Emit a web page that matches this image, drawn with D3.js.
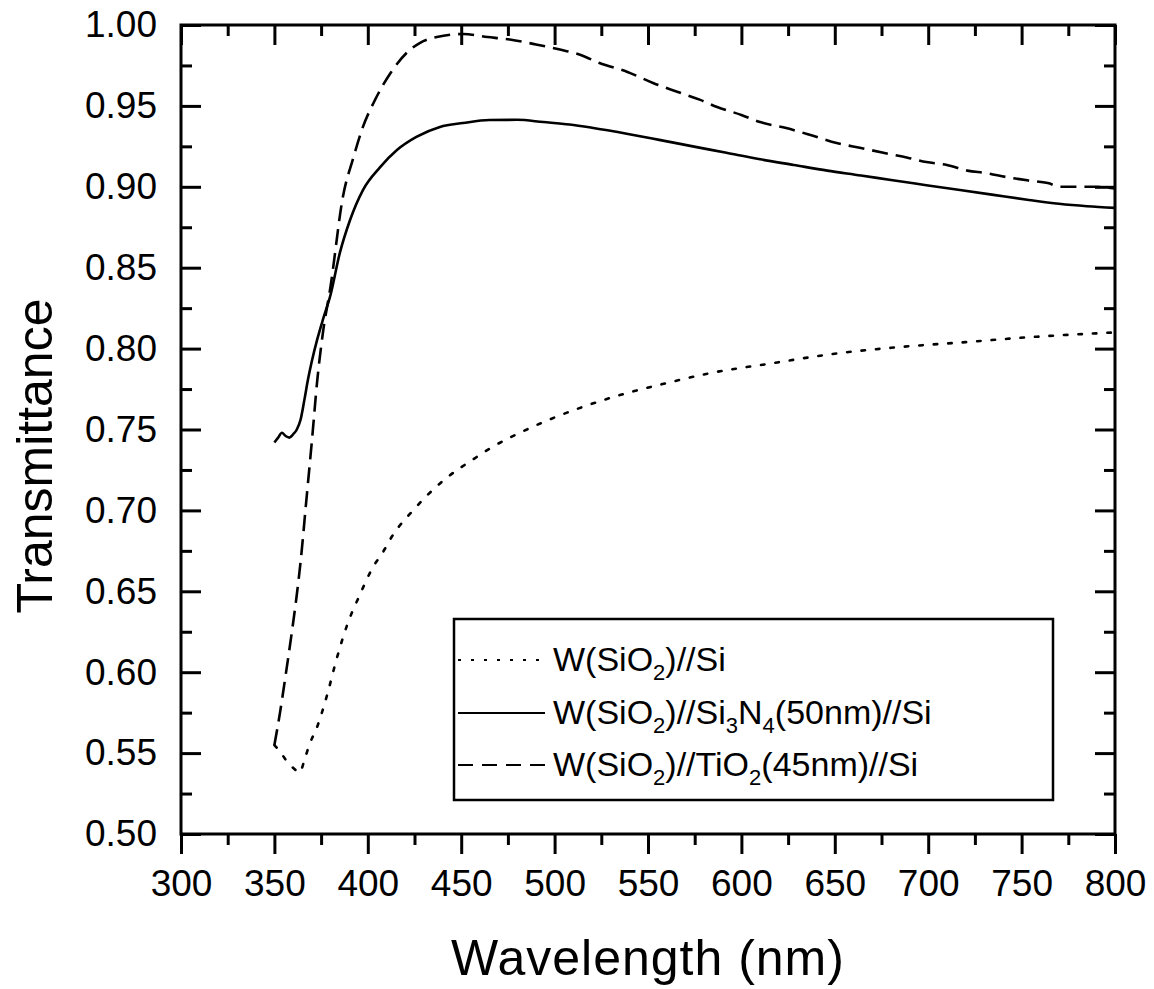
<!DOCTYPE html>
<html>
<head>
<meta charset="utf-8">
<script src="https://cdn.jsdelivr.net/npm/d3@7"></script>
<style>
  html, body { margin: 0; padding: 0; background: #fff; }
  svg { display: block; font-family: "Liberation Sans", Arial, Helvetica, sans-serif; }
</style>
</head>
<body>
<svg id="chart" width="1154" height="989"></svg>
<script>
// Wavelength (nm) and transmittance for each stack
const wlSi = [350, 353, 356, 359, 362, 363.5, 366.4, 369, 372.8, 378, 383.5, 388.9, 395.8, 402.8, 408, 413, 425, 441, 457, 465, 488, 512, 535, 560, 584, 614, 649, 685, 720, 756, 800];
const tSi  = [0.555, 0.551, 0.546, 0.542, 0.539, 0.538, 0.547, 0.556, 0.566, 0.585, 0.609, 0.629, 0.648, 0.665, 0.674, 0.684, 0.701, 0.719, 0.732, 0.738, 0.7515, 0.7627, 0.7713, 0.7787, 0.785, 0.7905, 0.7967, 0.801, 0.804, 0.8072, 0.810];

const wlSiN = [350, 352, 354, 356, 358, 360, 362, 364, 366, 368, 370, 373, 376, 380, 385, 390.5, 397.4, 406.5, 415.6, 426, 438.6, 451, 465, 480, 494, 508, 520, 540, 556, 574, 592, 610, 628, 646, 664, 681, 699, 717, 735, 753, 770, 785, 800];
const tSiN  = [0.742, 0.745, 0.748, 0.746, 0.745, 0.747, 0.750, 0.756, 0.768, 0.781, 0.792, 0.806, 0.818, 0.833, 0.859, 0.8795, 0.898, 0.912, 0.9227, 0.9308, 0.937, 0.9394, 0.9413, 0.9414, 0.940, 0.9385, 0.9365, 0.9325, 0.929, 0.925, 0.921, 0.917, 0.9135, 0.910, 0.907, 0.904, 0.901, 0.898, 0.895, 0.892, 0.8895, 0.888, 0.887];

const wlTi = [350, 353, 356, 359, 362, 364, 367, 370, 373, 376, 380, 386.7, 392, 397.4, 404, 412, 421, 428, 437, 451, 464, 476, 490, 504, 514, 524, 539, 553, 566, 578, 587, 600, 610, 624, 637, 651, 664, 676, 689, 699, 710, 721, 731, 742, 753, 764, 771, 789, 800];
const tTi  = [0.555, 0.575, 0.598, 0.622, 0.648, 0.668, 0.705, 0.742, 0.781, 0.810, 0.838, 0.894, 0.917, 0.937, 0.954, 0.970, 0.983, 0.989, 0.9926, 0.9944, 0.9926, 0.991, 0.988, 0.9845, 0.9815, 0.9765, 0.971, 0.964, 0.9586, 0.9537, 0.9493, 0.9444, 0.940, 0.9363, 0.932, 0.927, 0.924, 0.921, 0.918, 0.9153, 0.9135, 0.910, 0.9085, 0.906, 0.904, 0.9023, 0.900, 0.900, 0.899];

// Axis ticks
const xMajor = [300, 350, 400, 450, 500, 550, 600, 650, 700, 750, 800];
const xMinor = [325, 375, 425, 475, 525, 575, 625, 675, 725, 775];
const yMajor = [0.50, 0.55, 0.60, 0.65, 0.70, 0.75, 0.80, 0.85, 0.90, 0.95, 1.00];
const yMinor = [0.525, 0.575, 0.625, 0.675, 0.725, 0.775, 0.825, 0.875, 0.925, 0.975];

// Legend entries: pieces of [text, isSubscript]
const legendLabels = [
  [["W(SiO", false], ["2", true], [")//Si", false]],
  [["W(SiO", false], ["2", true], [")//Si", false], ["3", true], ["N", false], ["4", true], ["(50nm)//Si", false]],
  [["W(SiO", false], ["2", true], [")//TiO", false], ["2", true], ["(45nm)//Si", false]]
];
const legendStyles = ["dotted", "solid", "dashed"];

const L = 181, R = 1115, T = 25, B = 834;
const svg = d3.select("#chart");

const x = d3.scaleLinear().domain([300, 800]).range([L, R]);
const y = d3.scaleLinear().domain([0.5, 1.0]).range([B, T]);

const dash = { dotted: "3.5,11", solid: null, dashed: "16,8" };

svg.append("defs").append("clipPath").attr("id", "plotClip")
  .append("rect").attr("x", L).attr("y", T).attr("width", R - L).attr("height", B - T);

// Curves
const line = d3.line().x(d => x(d[0])).y(d => y(d[1])).curve(d3.curveMonotoneX);
const series = [
  { wl: wlSi, t: tSi, style: "dotted" },
  { wl: wlSiN, t: tSiN, style: "solid" },
  { wl: wlTi, t: tTi, style: "dashed" }
];
const gLines = svg.append("g").attr("clip-path", "url(#plotClip)");
series.forEach(s => {
  gLines.append("path")
    .datum(s.wl.map((w, i) => [w, s.t[i]]))
    .attr("d", line)
    .attr("fill", "none")
    .attr("stroke", "#000")
    .attr("stroke-width", 2.6)
    .attr("stroke-linecap", s.style === "dotted" ? "round" : "butt")
    .attr("stroke-dasharray", dash[s.style]);
});

// Axes
function styleAxis(g) {
  g.select(".domain").remove();
  g.selectAll(".tick line").attr("stroke", "#000").attr("stroke-width", 3);
  g.selectAll(".tick text").attr("fill", "#000").attr("font-size", 37);
}
const fmtX = d3.format("d");
const fmtY = d3.format(".2f");

// bottom: outward ticks with labels
svg.append("g").attr("transform", `translate(0,${B})`)
  .call(d3.axisBottom(x).tickValues(xMajor).tickSize(20).tickPadding(16).tickFormat(fmtX))
  .call(styleAxis);
svg.append("g").attr("transform", `translate(0,${B})`)
  .call(d3.axisBottom(x).tickValues(xMinor).tickSize(11).tickFormat(""))
  .call(styleAxis);
// top: inward ticks
svg.append("g").attr("transform", `translate(0,${T})`)
  .call(d3.axisBottom(x).tickValues(xMajor).tickSize(20).tickFormat(""))
  .call(styleAxis);
svg.append("g").attr("transform", `translate(0,${T})`)
  .call(d3.axisBottom(x).tickValues(xMinor).tickSize(11).tickFormat(""))
  .call(styleAxis);
// left: inward ticks, labels outside
svg.append("g").attr("transform", `translate(${L},0)`)
  .call(d3.axisLeft(y).tickValues(yMajor).tickSize(-20).tickPadding(24).tickFormat(fmtY))
  .call(styleAxis);
svg.append("g").attr("transform", `translate(${L},0)`)
  .call(d3.axisLeft(y).tickValues(yMinor).tickSize(-11).tickFormat(""))
  .call(styleAxis);
// right: inward ticks
svg.append("g").attr("transform", `translate(${R},0)`)
  .call(d3.axisLeft(y).tickValues(yMajor).tickSize(20).tickFormat(""))
  .call(styleAxis);
svg.append("g").attr("transform", `translate(${R},0)`)
  .call(d3.axisLeft(y).tickValues(yMinor).tickSize(11).tickFormat(""))
  .call(styleAxis);

// frame
svg.append("rect").attr("x", L).attr("y", T).attr("width", R - L).attr("height", B - T)
  .attr("fill", "none").attr("stroke", "#000").attr("stroke-width", 3);

// Axis titles
svg.append("text")
  .attr("x", (L + R) / 2).attr("y", 975)
  .attr("text-anchor", "middle").attr("font-size", 50).attr("letter-spacing", 1)
  .text("Wavelength (nm)");
svg.append("text")
  .attr("transform", "translate(52,456) rotate(-90)")
  .attr("text-anchor", "middle").attr("font-size", 50)
  .text("Transmittance");

// Legend
const lg = svg.append("g");
lg.append("rect").attr("x", 454).attr("y", 619).attr("width", 599).attr("height", 181)
  .attr("fill", "#fff").attr("stroke", "#000").attr("stroke-width", 2.5);
const rowY = [660, 713, 765];
legendLabels.forEach((parts, i) => {
  lg.append("line")
    .attr("x1", 458).attr("x2", 545).attr("y1", rowY[i]).attr("y2", rowY[i])
    .attr("stroke", "#000").attr("stroke-width", 2.2)
    .attr("stroke-dasharray", legendStyles[i] === "dotted" ? "3,10" : legendStyles[i] === "dashed" ? "15,9" : null);
  const t = lg.append("text").attr("x", 553).attr("y", rowY[i] + 11).attr("font-size", 34);
  let down = false;
  parts.forEach(([txt, sub]) => {
    const sp = t.append("tspan").text(txt);
    if (sub && !down) { sp.attr("dy", 9).attr("font-size", 22); down = true; }
    else if (!sub && down) { sp.attr("dy", -9); down = false; }
  });
});
</script>
</body>
</html>
